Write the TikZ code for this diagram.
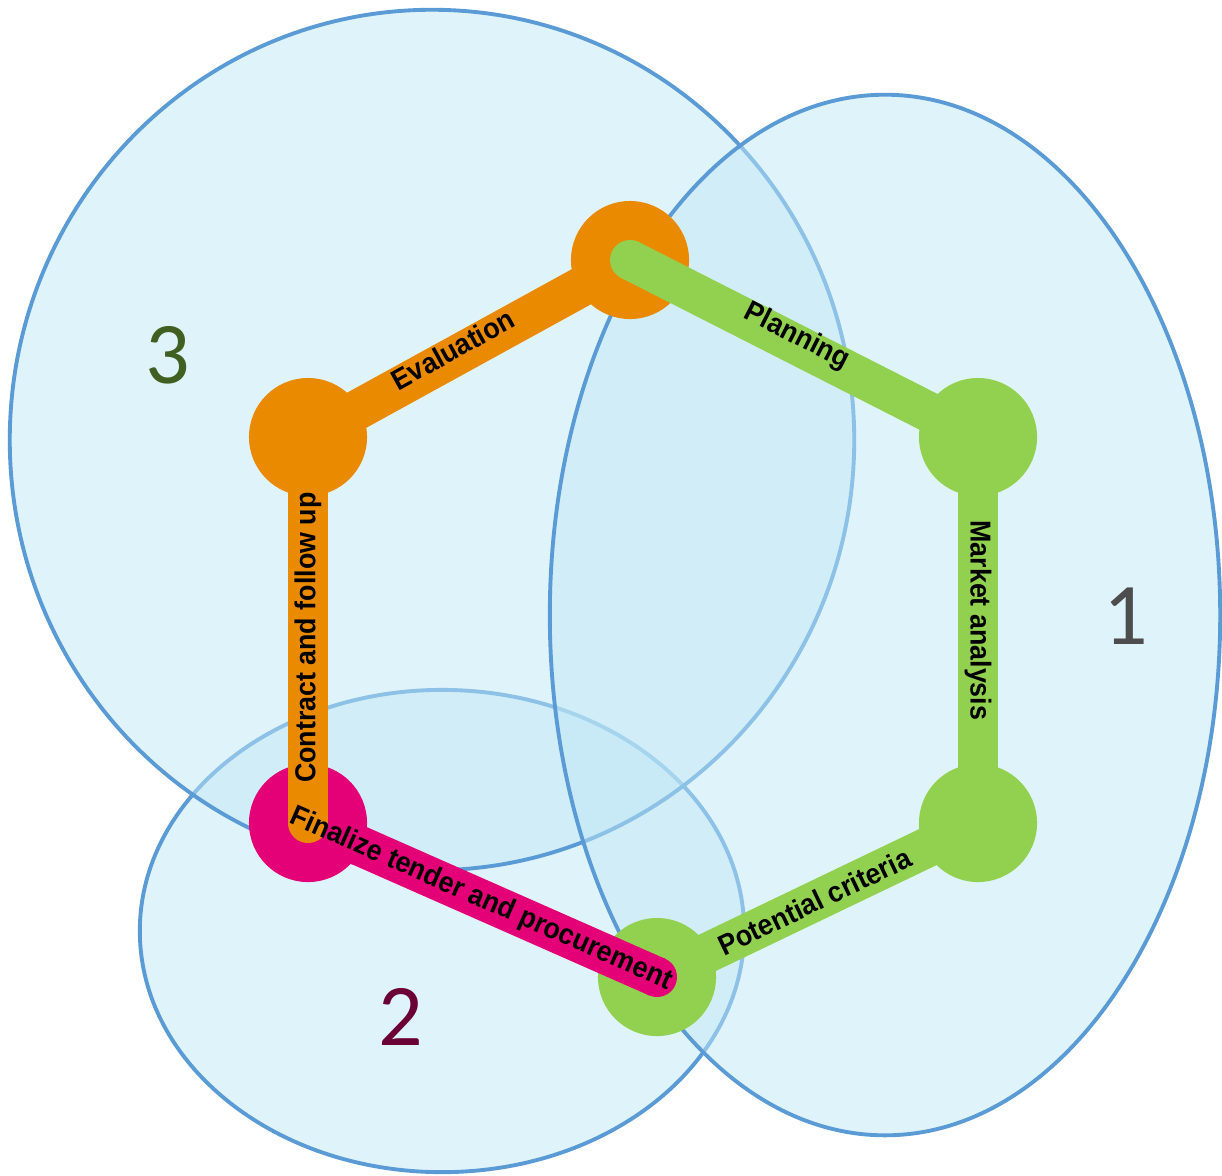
\documentclass[tikz,border=0pt]{standalone}
\usepackage{fontspec}
\setmainfont{Liberation Sans}
\newfontfamily\numfont{Carlito}
\newfontfamily\barfont[FakeStretch=0.93]{Liberation Sans}
\definecolor{orangeC}{RGB}{234,138,0}
\definecolor{greenC}{RGB}{146,208,80}
\definecolor{magentaC}{RGB}{228,0,118}
\definecolor{ellLine}{RGB}{91,155,213}
\definecolor{ellFill}{RGB}{192,231,246}
\definecolor{numGrey}{RGB}{77,77,77}
\definecolor{numMaroon}{RGB}{107,0,52}
\definecolor{numGreen}{RGB}{63,96,33}
\tikzset{
  region/.style={draw=ellLine, line width=1.1pt, fill=ellFill, fill opacity=0.5},
  hub/.style={circle, inner sep=0pt, minimum size=1.18cm},
  barline/.style={draw=#1, line width=0.4cm},
  barcap/.style={fill=#1},
  barlabel/.style={inner sep=0pt, font=\barfont\bfseries\fontsize{8.2}{9}\selectfont},
  numlabel/.style={inner sep=0pt, font=\numfont\fontsize{25}{30}\selectfont}
}
% a bar with round ends between two named hubs
\newcommand\hexbar[3]{%
  \fill[barcap=#3] (#1.center) circle[radius=0.2cm];
  \fill[barcap=#3] (#2.center) circle[radius=0.2cm];
  \path[barline=#3] (#1.center) -- (#2.center);
}
\begin{document}
\begin{tikzpicture}[x=0.01cm,y=-0.01cm]
\useasboundingbox (0,0) rectangle (1222,1175);
% regions
\path[region] (442,931) ellipse [x radius=3.02cm, y radius=2.41cm];
\path[region] (432,440) ellipse [x radius=4.22cm, y radius=4.30cm];
\path[region] (885,615) ellipse [x radius=3.35cm, y radius=5.20cm];
% hubs
\node[hub, fill=orangeC] (top) at (630,260) {};
\node[hub, fill=orangeC] (ul) at (308,437) {};
\node[hub, fill=greenC] (ur) at (978,437) {};
\node[hub, fill=greenC] (lr) at (978,823) {};
\node[hub, fill=greenC] (bot) at (657,977) {};
\node[hub, fill=magentaC] (ll) at (308,823) {};
% bars
\hexbar{lr}{bot}{greenC}
\hexbar{ur}{lr}{greenC}
\hexbar{ll}{bot}{magentaC}
\hexbar{ul}{top}{orangeC}
\hexbar{ul}{ll}{orangeC}
\hexbar{top}{ur}{greenC}
% bar labels
\path (top.center) -- (ur.center) node[barlabel, pos=0.47, rotate=-26.96, yshift=2pt] (tPlan) {Planning};
\path (ur.center) -- (lr.center) node[barlabel, pos=0.475, rotate=-90] (tMarket) {Market analysis};
\path (bot.center) -- (lr.center) node[barlabel, pos=0.49, rotate=25.6] (tPot) {Potential criteria};
\path (ll.center) -- (bot.center) node[barlabel, pos=0.495, rotate=-23.8] (tFin) {Finalize tender and procurement};
\path (ll.center) -- (ul.center) node[barlabel, pos=0.48, rotate=90] (tCon) {Contract and follow up};
\path (ul.center) -- (top.center) node[barlabel, pos=0.46, rotate=28.8, yshift=2pt] (tEval) {Evaluation};
% numbers
\node[numlabel, text=numGrey] (n1) at (1126,616) {1};
\node[numlabel, text=numMaroon] (n2) at (401,1017) {2};
\node[numlabel, text=numGreen] (n3) at (168,355) {3};
\end{tikzpicture}
\end{document}
